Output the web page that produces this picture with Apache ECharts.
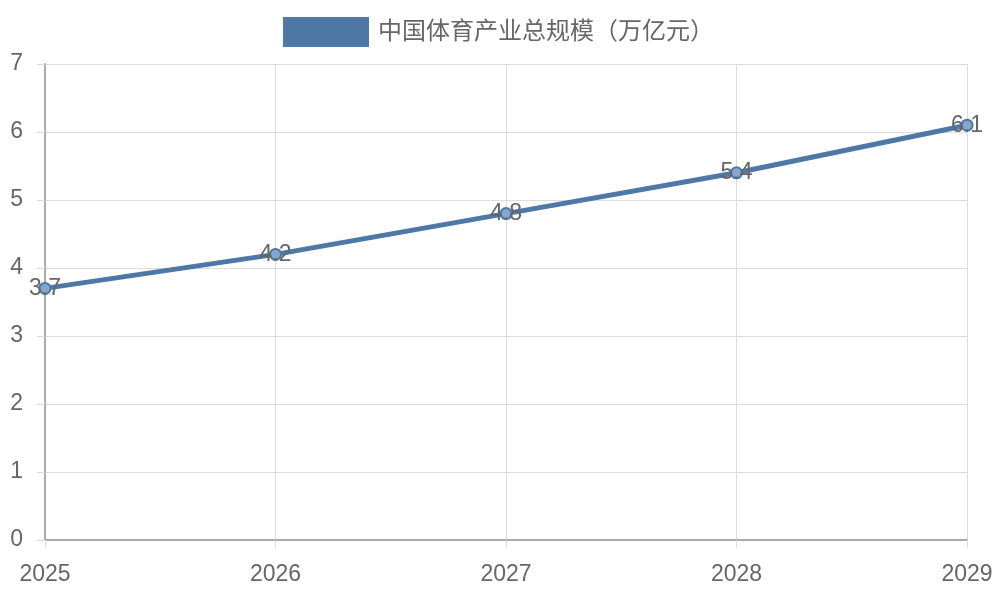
<!DOCTYPE html>
<html><head><meta charset="utf-8">
<script src="https://cdn.jsdelivr.net/npm/echarts@6/dist/echarts.min.js"></script>
<style>html,body{margin:0;padding:0;background:#fff}#c{width:1000px;height:600px}</style>
</head><body><div id="c"></div>
<script>
const years = ['2025','2026','2027','2028','2029'];
const sportsIndustry = [3.7, 4.2, 4.8, 5.4, 6.1];
const seriesName = '中国体育产业总规模（万亿元）';
const yTicks = {min: 0, max: 7, interval: 1};

const chart = echarts.init(document.getElementById('c'));
const font = 'Liberation Sans, Arial, "Noto Sans CJK SC", sans-serif';
chart.setOption({
  animation: false,
  textStyle: {fontFamily: font},
  legend: {
    top: 17, left: 283, padding: 0,
    icon: 'rect', itemWidth: 86, itemHeight: 30, itemGap: 10,
    itemStyle: {color: '#4e79a7', borderWidth: 0},
    textStyle: {fontSize: 24, color: '#666', fontFamily: font, padding: [2, 0, 0, 4]},
    data: [seriesName]
  },
  grid: {left: 45, right: 33, top: 64, bottom: 60, containLabel: false},
  xAxis: {
    type: 'category', data: years, boundaryGap: false,
    axisLine: {show: true, lineStyle: {color: '#aaa', width: 2}},
    axisTick: {show: true, length: 8, lineStyle: {color: '#ddd', width: 1}},
    splitLine: {show: true, lineStyle: {color: '#ddd', width: 1}},
    axisLabel: {fontSize: 23, color: '#666', margin: 23}
  },
  yAxis: {
    type: 'value', min: yTicks.min, max: yTicks.max, interval: yTicks.interval,
    axisLine: {show: true, lineStyle: {color: '#aaa', width: 2}},
    axisTick: {show: true, length: 8, lineStyle: {color: '#ddd', width: 1}},
    splitLine: {show: true, lineStyle: {color: '#ddd', width: 1}},
    axisLabel: {fontSize: 23, color: '#666', margin: 22, padding: [3, 0, 0, 0]}
  },
  series: [{
    name: seriesName, type: 'line', data: sportsIndustry,
    color: '#4e79a7',
    lineStyle: {color: '#4e79a7', width: 5},
    symbol: 'circle', symbolSize: 11,
    itemStyle: {color: '#86a6cc', borderColor: '#4e79a7', borderWidth: 2},
    label: {show: true, position: 'inside', fontSize: 23, color: '#666', formatter: p => p.value.toFixed(1)}
  }]
});
</script></body></html>
